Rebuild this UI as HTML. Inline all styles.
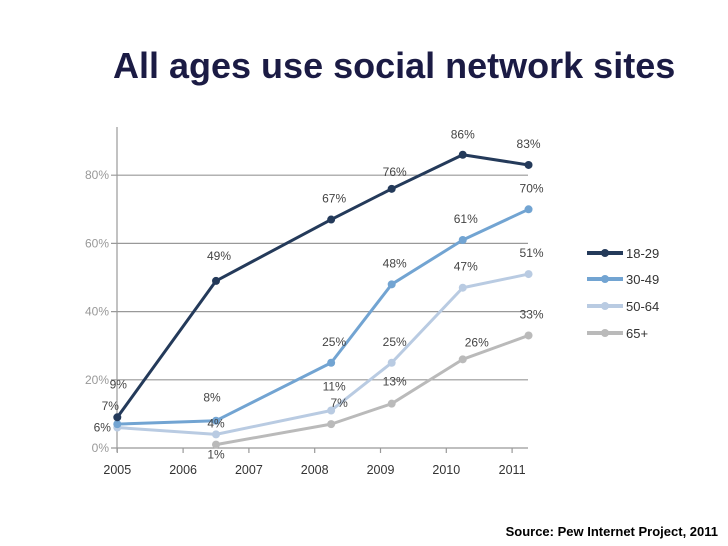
<!DOCTYPE html>
<html><head><meta charset="utf-8"><style>
body{margin:0;background:#fff;width:728px;height:546px;overflow:hidden;font-family:"Liberation Sans",sans-serif}
#title{position:absolute;left:113px;top:48px;font-size:36px;line-height:36px;font-weight:bold;color:#1b1b44;white-space:nowrap}
#source{position:absolute;right:10px;top:524px;font-size:13px;font-weight:bold;color:#000}
svg{position:absolute;left:0;top:0}
</style></head><body>
<div id="title">All ages use social network sites</div>
<div id="source">Source: Pew Internet Project, 2011</div>
<svg id="chart" width="728" height="546"></svg>
<script>
const years = [2005, 2006, 2007, 2008, 2009, 2010, 2011];
const yTicks = [0, 20, 40, 60, 80];
const seriesNames = ["18-29", "30-49", "50-64", "65+"];
const xs1829 = [2005, 2006.5, 2008.25, 2009.17, 2010.25, 2011.25];
const v1829 = [9, 49, 67, 76, 86, 83];
const xs3049 = [2005, 2006.5, 2008.25, 2009.17, 2010.25, 2011.25];
const v3049 = [7, 8, 25, 48, 61, 70];
const xs5064 = [2005, 2006.5, 2008.25, 2009.17, 2010.25, 2011.25];
const v5064 = [6, 4, 11, 25, 47, 51];
const xs65 = [2006.5, 2008.25, 2009.17, 2010.25, 2011.25];
const v65 = [1, 7, 13, 26, 33];

const colors = ["#243a5a", "#72a4d2", "#b9cbe2", "#bababa"];
const NS = "http://www.w3.org/2000/svg";
const svg = document.getElementById("chart");
const X = y => 117.3 + (y - 2005) * 65.8;
const Y = v => 448 - v * 3.41;
function mk(t, a, p) { const e = document.createElementNS(NS, t); for (const k in a) e.setAttribute(k, a[k]); (p || svg).appendChild(e); return e; }

const ya = mk("line", {x1:117, y1:127, x2:117, y2:452, stroke:"#999", "stroke-width":1.2});


yTicks.forEach(t => {
  const g = mk("line", {x1:111, y1:Y(t), x2:528, y2:Y(t), stroke:"#999", "stroke-width":1.2});
  
  
  const l = mk("text", {x:109, y:Y(t)+4, "text-anchor":"end", "font-size":12, fill:"#999"});
  l.textContent = t + "%";
  
  
});
years.forEach(yr => {
  const tk = mk("line", {x1:X(yr), y1:448, x2:X(yr), y2:453, stroke:"#999", "stroke-width":1.2});
  
  
  const l = mk("text", {x:X(yr), y:474, "text-anchor":"middle", "font-size":12.5, fill:"#333"});
  l.textContent = yr;
  
  
});

const allX = [xs1829, xs3049, xs5064, xs65];
const allV = [v1829, v3049, v5064, v65];
const offs = [
  [[1,-29],[3,-21],[3,-17],[3,-13],[0,-16],[0,-17]],
  [[-7,-14],[-4,-19],[3,-17],[3,-17],[3,-17],[3,-17]],
  [[-15,4],[0,-7],[3,-20],[3,-17],[3,-17],[3,-17]],
  [[0,14],[8,-17],[3,-18],[14,-13],[3,-17]]
];
for (let s = 3; s >= 0; s--) {
  const pts = allX[s].map((x, i) => X(x) + "," + Y(allV[s][i])).join(" ");
  const pl = mk("polyline", {points:pts, fill:"none", stroke:colors[s], "stroke-width":3, "stroke-linejoin":"round"});
  
  
  allX[s].forEach((x, i) => {
    const c = mk("circle", {cx:X(x), cy:Y(allV[s][i]), r:4, fill:colors[s]});
    
    
  });
}
for (let s = 0; s < 4; s++) {
  allX[s].forEach((x, i) => {
    const o = offs[s][i];
    const t = mk("text", {x:X(x)+o[0], y:Y(allV[s][i])+o[1], "text-anchor":"middle", "font-size":12, fill:"#444"});
    t.textContent = allV[s][i] + "%";
    
    
  });
}
const legY = [253, 279, 306, 333];
seriesNames.forEach((n, s) => {
  const g = mk("g", {});
  
  
  mk("line", {x1:587, y1:legY[s], x2:623, y2:legY[s], stroke:colors[s], "stroke-width":4}, g);
  mk("circle", {cx:605, cy:legY[s], r:4, fill:colors[s]}, g);
  const t = mk("text", {x:626, y:legY[s]+5, "font-size":13, fill:"#333"}, g);
  t.textContent = n;
});
</script>
</body></html>
